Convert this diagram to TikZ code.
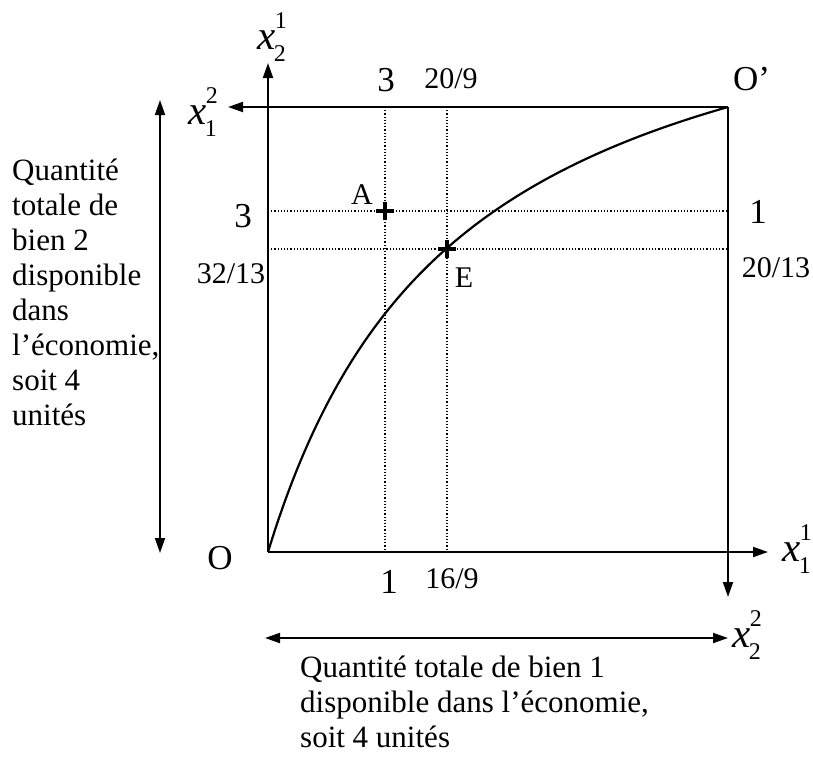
\documentclass[tikz,border=0pt]{standalone}
\usepackage{fontspec}
\setmainfont{Liberation Serif}
\usetikzlibrary{arrows.meta}

% variable x avec exposant (#1) et indice (#2)
\newcommand\xlab[2]{\textit{x}\kern-1.5pt\makebox[0pt][l]{\kern1pt\raisebox{21pt}{\fontsize{24}{24}\selectfont #1}}\raisebox{-12pt}{\fontsize{24}{24}\selectfont #2}}

\tikzset{
  axe/.style={line width=1.9pt},
  guide/.style={line width=1.1pt, dash pattern=on 1.2pt off 2pt},
  marque/.style={line width=3.4pt},
  grand/.style={font=\fontsize{35}{35}\selectfont, inner sep=0pt},
  petit/.style={font=\fontsize{30}{30}\selectfont, inner sep=0pt},
  var/.style={font=\fontsize{41}{41}\selectfont, inner sep=0pt},
  texte/.style={font=\fontsize{31}{35}\selectfont, align=left, inner sep=0pt},
}

\begin{document}
\begin{tikzpicture}[x=1pt,y=-1pt,>={Triangle[length=15pt,width=10pt]}]
  \useasboundingbox (0,0) rectangle (813,760);
  % coins de la boite d'Edgeworth
  \coordinate (O) at (268,552);
  \coordinate (Op) at (728,107);
  \coordinate (hautY) at (268,63);
  \coordinate (gaucheX) at (228,107);
  \coordinate (basY) at (728,597);
  \coordinate (droiteX) at (768,552);
  \coordinate (A) at (385,211);
  \coordinate (E) at (447,249);

  % axes
  \draw[axe,->] (O) -- (hautY);
  \draw[axe,->] (O) -- (droiteX);
  \draw[axe,->] (Op) -- (gaucheX);
  \draw[axe,->] (Op) -- (basY);

  % pointilles
  \draw[guide] (A |- Op) -- (A |- O);
  \draw[guide] (E |- Op) -- (E |- O);
  \draw[guide] (A -| O) -- (A -| Op);
  \draw[guide] (E -| O) -- (E -| Op);

  % courbe des contrats
  \draw[line width=2.2pt,domain=0:1,samples=120,smooth,variable=\t]
    plot ({268+460*\t},{552-445*1.42*\t/(\t+0.42)});

  % points A et E
  \foreach \p in {A,E}{
    \draw[marque] ([xshift=-9pt]\p) -- ([xshift=9pt]\p);
    \draw[marque] ([yshift=-9pt]\p) -- ([yshift=9pt]\p);
  }
  \node[petit,anchor=base] (labA) at (362,204) {A};
  \node[petit,anchor=base] (labE) at (464,287) {E};

  % origines et variables
  \node[grand,anchor=base] (labO) at (220,569) {O};
  \node[grand,anchor=base west] (labOp) at (733,90) {O’};
  \node[var,anchor=base west] (x21) at (257,50) {\xlab{1}{2}};
  \node[var,anchor=base west] (x12) at (188,124) {\xlab{2}{1}};
  \node[var,anchor=base west] (x11) at (782,561) {\xlab{1}{1}};
  \node[var,anchor=base west] (x22) at (732,647) {\xlab{2}{2}};

  % valeurs
  \node[grand,anchor=base] (t3) at (386,91) {3};
  \node[petit,anchor=base] (t209) at (451,88) {20/9};
  \node[grand,anchor=base] (g3) at (243,227) {3};
  \node[petit,anchor=base] (g3213) at (231,283) {32/13};
  \node[grand,anchor=base] (d1) at (758,223) {1};
  \node[petit,anchor=base] (d2013) at (776,277) {20/13};
  \node[grand,anchor=base] (b1) at (389,593) {1};
  \node[petit,anchor=base] (b169) at (452,588) {16/9};

  % quantites totales
  \coordinate (v1) at (160,100);
  \coordinate (v2) at (160,553);
  \coordinate (h1) at (265,638);
  \coordinate (h2) at (728,638);
  \draw[axe,<->] (v1) -- (v2);
  \draw[axe,<->] (h1) -- (h2);
  \node[texte,anchor=base west] (bien2) at (12,425)
    {Quantité\\totale de\\bien 2\\disponible\\dans\\l’économie,\\soit 4\\unités};
  \node[texte,anchor=base west] (bien1) at (300,747)
    {Quantité totale de bien 1\\disponible dans l’économie,\\soit 4 unités};
\end{tikzpicture}
\end{document}
